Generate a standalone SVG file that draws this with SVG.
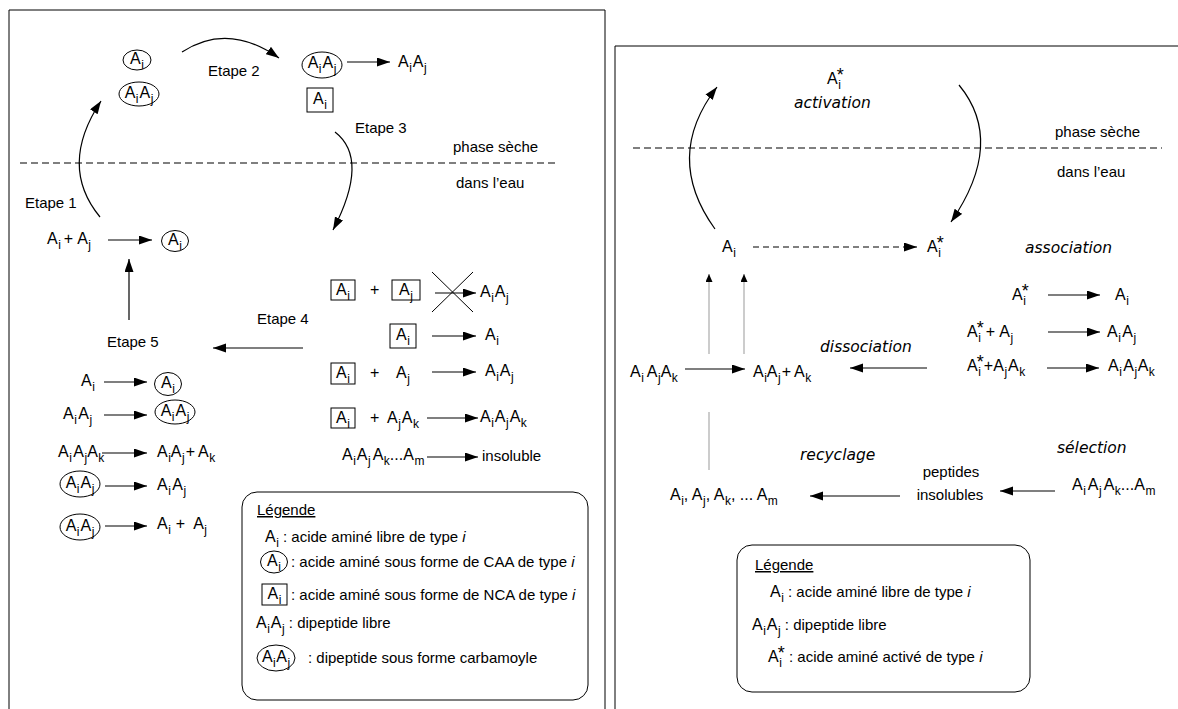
<svg xmlns="http://www.w3.org/2000/svg" width="1178" height="709" viewBox="0 0 1178 709">
<style>
.t{font-family:"Liberation Sans",Arial,sans-serif;font-size:15px;fill:#000}
.m{font-family:"Liberation Sans",Arial,sans-serif;font-size:16px;fill:#000}
.w{font-size:15px}
.s{font-size:12px}
.st{font-size:18px}
.it{font-family:"DejaVu Sans",sans-serif;font-style:italic;font-size:15.5px;fill:#000}
.ln{fill:none;stroke:#000;stroke-width:1.2}
.bx{fill:none;stroke:#000;stroke-width:1}
.dash{fill:none;stroke:#000;stroke-width:1.1;stroke-dasharray:7 4}
.gr{fill:none;stroke:#999;stroke-width:1}
</style>
<defs>
<marker id="ah" markerUnits="userSpaceOnUse" markerWidth="14" markerHeight="10" refX="13" refY="4.5" orient="auto">
<path d="M0,0 L13,4.5 L0,9 z" fill="#000"/>
</marker>
<marker id="ahs" markerUnits="userSpaceOnUse" markerWidth="9" markerHeight="8" refX="8" refY="3.5" orient="auto">
<path d="M0,0 L8,3.5 L0,7 z" fill="#000"/>
</marker>
</defs>
<rect width="1178" height="709" fill="#fff"/>

<!-- frames -->
<path class="bx" d="M9,709 V10 H605 V709"/>
<path class="bx" d="M615,709 V46 H1178"/>

<!-- left panel: phase boundary -->
<g id="left-phase">
<line class="dash" x1="20" y1="163" x2="555" y2="163"/>
<text class="t" x="453" y="152">phase sèche</text>
<text class="t" x="456" y="188">dans l’eau</text>
</g>

<g id="connectors-left">
<path class="ln" d="M100,217 Q58,166 101,101" marker-end="url(#ah)"/>
<path class="ln" d="M182,52 Q228,22 279,58" marker-end="url(#ah)"/>
<path class="ln" d="M335,132 Q370,159 333,230" marker-end="url(#ah)"/>
<line class="ln" x1="129" y1="320" x2="129" y2="259" marker-end="url(#ah)"/>
<line class="ln" x1="303" y1="348" x2="213" y2="348" marker-end="url(#ah)"/>
<line class="ln" x1="108" y1="240" x2="152" y2="240" marker-end="url(#ah)"/>
<line class="ln" x1="347" y1="62" x2="390" y2="62" marker-end="url(#ah)"/>
<!-- etape 4 -->
<line class="ln" x1="435" y1="293" x2="476" y2="293" marker-end="url(#ah)"/>
<line class="ln" x1="432" y1="336" x2="476" y2="336" marker-end="url(#ah)"/>
<line class="ln" x1="432" y1="372" x2="476" y2="372" marker-end="url(#ah)"/>
<line class="ln" x1="427" y1="418" x2="478" y2="418" marker-end="url(#ah)"/>
<line class="ln" x1="427" y1="457" x2="478" y2="457" marker-end="url(#ah)"/>
<!-- etape 5 -->
<line class="ln" x1="104" y1="382" x2="147" y2="382" marker-end="url(#ah)"/>
<line class="ln" x1="104" y1="415" x2="147" y2="415" marker-end="url(#ah)"/>
<line class="ln" x1="102" y1="453" x2="147" y2="453" marker-end="url(#ah)"/>
<line class="ln" x1="105" y1="486" x2="147" y2="486" marker-end="url(#ah)"/>
<line class="ln" x1="105" y1="526" x2="147" y2="526" marker-end="url(#ah)"/>
</g>

<!-- step labels -->
<g id="labels-left">
<text class="t" x="25" y="208">Etape 1</text>
<text class="t" x="208" y="76">Etape 2</text>
<text class="t" x="355" y="133">Etape 3</text>
<text class="t" x="257" y="324">Etape 4</text>
<text class="t" x="107" y="347">Etape 5</text>
</g>

<!-- dry phase species -->
<g id="caa-ai-top">
<ellipse class="bx" cx="137" cy="60" rx="14" ry="10"/>
<text class="m" x="137" y="64" text-anchor="middle">A<tspan class="s" dx="0.5" dy="4.5">i</tspan></text>
</g>
<g id="caa-aiaj-top">
<ellipse class="bx" cx="139" cy="94" rx="20" ry="12"/>
<text class="m" x="139" y="98" text-anchor="middle">A<tspan class="s" dx="0.5" dy="4.5">i</tspan><tspan dx="1" dy="-4.5">A</tspan><tspan class="s" dx="0.5" dy="4.5">j</tspan></text>
</g>
<g id="caa-aiaj-dry">
<ellipse class="bx" cx="322" cy="65" rx="20" ry="13"/>
<text class="m" x="322" y="68" text-anchor="middle">A<tspan class="s" dx="0.5" dy="4.5">i</tspan><tspan dx="1" dy="-4.5">A</tspan><tspan class="s" dx="0.5" dy="4.5">j</tspan></text>
<text class="m" x="398" y="67">A<tspan class="s" dx="0.5" dy="4.5">i</tspan><tspan dx="1" dy="-4.5">A</tspan><tspan class="s" dx="0.5" dy="4.5">j</tspan></text>
</g>
<g id="nca-ai-dry">
<rect class="bx" x="307" y="88" width="26" height="24"/>
<text class="m" x="320" y="104" text-anchor="middle">A<tspan class="s" dx="0.5" dy="4.5">i</tspan></text>
</g>

<!-- etape 1 -->
<g id="etape1">
<text class="m" x="47" y="244">A<tspan class="s" dx="0.5" dy="4.5">i</tspan><tspan dx="3" dy="-4.5">+</tspan><tspan dx="4">A</tspan><tspan class="s" dx="0.5" dy="4.5">j</tspan></text>
<ellipse class="bx" cx="175" cy="241" rx="13.5" ry="10.5"/>
<text class="m" x="175" y="245" text-anchor="middle">A<tspan class="s" dx="0.5" dy="4.5">i</tspan></text>
</g>

<!-- etape 4 reactions -->
<g id="etape4">
<rect class="bx" x="331" y="280" width="24" height="20"/>
<text class="m" x="343" y="295" text-anchor="middle">A<tspan class="s" dx="0.5" dy="4.5">i</tspan></text>
<text class="m" x="370" y="295">+</text>
<rect class="bx" x="392" y="280" width="28" height="20"/>
<text class="m" x="406" y="295" text-anchor="middle">A<tspan class="s" dx="0.5" dy="4.5">j</tspan></text>
<line class="bx" x1="432" y1="272" x2="473" y2="312"/>
<line class="bx" x1="432" y1="312" x2="473" y2="272"/>
<text class="m" x="480" y="297">A<tspan class="s" dx="0.5" dy="4.5">i</tspan><tspan dx="1" dy="-4.5">A</tspan><tspan class="s" dx="0.5" dy="4.5">j</tspan></text>

<rect class="bx" x="390" y="324" width="26" height="24"/>
<text class="m" x="403" y="340" text-anchor="middle">A<tspan class="s" dx="0.5" dy="4.5">i</tspan></text>
<text class="m" x="485" y="340">A<tspan class="s" dx="0.5" dy="4.5">i</tspan></text>

<rect class="bx" x="331" y="363" width="24" height="21"/>
<text class="m" x="343" y="378" text-anchor="middle">A<tspan class="s" dx="0.5" dy="4.5">i</tspan></text>
<text class="m" x="370" y="378">+</text>
<text class="m" x="396" y="378">A<tspan class="s" dx="0.5" dy="4.5">j</tspan></text>
<text class="m" x="485" y="376">A<tspan class="s" dx="0.5" dy="4.5">i</tspan><tspan dx="1" dy="-4.5">A</tspan><tspan class="s" dx="0.5" dy="4.5">j</tspan></text>

<rect class="bx" x="331" y="408" width="24" height="20"/>
<text class="m" x="343" y="423" text-anchor="middle">A<tspan class="s" dx="0.5" dy="4.5">i</tspan></text>
<text class="m" x="370" y="423">+</text>
<text class="m" x="387" y="423">A<tspan class="s" dx="0.5" dy="4.5">j</tspan><tspan dx="1" dy="-4.5">A</tspan><tspan class="s" dx="0.5" dy="4.5">k</tspan></text>
<text class="m" x="480" y="422">A<tspan class="s" dx="0.5" dy="4.5">i</tspan><tspan dx="1" dy="-4.5">A</tspan><tspan class="s" dx="0.5" dy="4.5">j</tspan><tspan dx="1" dy="-4.5">A</tspan><tspan class="s" dx="0.5" dy="4.5">k</tspan></text>

<text class="m" x="342" y="460">A<tspan class="s" dx="0.5" dy="4.5">i</tspan><tspan dx="1" dy="-4.5">A</tspan><tspan class="s" dx="0.5" dy="4.5">j</tspan><tspan dx="2" dy="-4.5">A</tspan><tspan class="s" dx="0.5" dy="4.5">k</tspan><tspan dy="-4.5">...A</tspan><tspan class="s" dx="0.5" dy="4.5">m</tspan></text>
<text class="t" x="482" y="461">insoluble</text>
</g>

<!-- etape 5 reactions -->
<g id="etape5">
<text class="m" x="81" y="386">A<tspan class="s" dx="0.5" dy="4.5">i</tspan></text>
<ellipse class="bx" cx="168" cy="384" rx="13.5" ry="11.5"/>
<text class="m" x="168" y="388" text-anchor="middle">A<tspan class="s" dx="0.5" dy="4.5">i</tspan></text>

<text class="m" x="63" y="419">A<tspan class="s" dx="0.5" dy="4.5">i</tspan><tspan dx="1.5" dy="-4.5">A</tspan><tspan class="s" dx="0.5" dy="4.5">j</tspan></text>
<ellipse class="bx" cx="175" cy="412" rx="20" ry="12"/>
<text class="m" x="175" y="416" text-anchor="middle">A<tspan class="s" dx="0.5" dy="4.5">i</tspan><tspan dx="1" dy="-4.5">A</tspan><tspan class="s" dx="0.5" dy="4.5">j</tspan></text>

<text class="m" x="58" y="457">A<tspan class="s" dx="0.5" dy="4.5">i</tspan><tspan dx="1.5" dy="-4.5">A</tspan><tspan class="s" dx="0.5" dy="4.5">j</tspan><tspan dy="-4.5">A</tspan><tspan class="s" dx="0.5" dy="4.5">k</tspan></text>
<text class="m" x="157" y="457">A<tspan class="s" dx="0.5" dy="4.5">i</tspan><tspan dy="-4.5">A</tspan><tspan class="s" dx="0.5" dy="4.5">j</tspan><tspan dx="1" dy="-4.5">+</tspan><tspan dx="3">A</tspan><tspan class="s" dx="0.5" dy="4.5">k</tspan></text>

<ellipse class="bx" cx="80" cy="484" rx="20" ry="13"/>
<text class="m" x="80" y="488" text-anchor="middle">A<tspan class="s" dx="0.5" dy="4.5">i</tspan><tspan dx="1" dy="-4.5">A</tspan><tspan class="s" dx="0.5" dy="4.5">j</tspan></text>
<text class="m" x="157" y="490">A<tspan class="s" dx="0.5" dy="4.5">i</tspan><tspan dx="1.5" dy="-4.5">A</tspan><tspan class="s" dx="0.5" dy="4.5">j</tspan></text>

<ellipse class="bx" cx="80" cy="527" rx="20" ry="13"/>
<text class="m" x="80" y="531" text-anchor="middle">A<tspan class="s" dx="0.5" dy="4.5">i</tspan><tspan dx="1" dy="-4.5">A</tspan><tspan class="s" dx="0.5" dy="4.5">j</tspan></text>
<text class="m" x="157" y="529">A<tspan class="s" dx="0.5" dy="4.5">i</tspan><tspan dx="5" dy="-4.5">+</tspan><tspan dx="8">A</tspan><tspan class="s" dx="0.5" dy="4.5">j</tspan></text>
</g>

<!-- left legend -->
<g id="legend-left">
<rect class="bx" x="242" y="492" width="346" height="208" rx="15"/>
<text class="t" x="257" y="515" text-decoration="underline">Légende</text>
<text class="m" x="265" y="542">A<tspan class="s" dx="0.5" dy="4.5">i</tspan><tspan class="w" dy="-4.5"> : acide aminé libre de type </tspan><tspan class="w" font-style="italic">i</tspan></text>
<ellipse class="bx" cx="274" cy="562" rx="13.5" ry="11"/>
<text class="m" x="274" y="566" text-anchor="middle">A<tspan class="s" dx="0.5" dy="4.5">i</tspan></text>
<text class="t" x="291" y="567">: acide aminé sous forme de CAA de type <tspan font-style="italic">i</tspan></text>
<rect class="bx" x="262" y="584" width="25" height="21"/>
<text class="m" x="274.5" y="599" text-anchor="middle">A<tspan class="s" dx="0.5" dy="4.5">i</tspan></text>
<text class="t" x="291" y="600">: acide aminé sous forme de NCA de type <tspan font-style="italic">i</tspan></text>
<text class="m" x="256" y="628">A<tspan class="s" dx="0.5" dy="4.5">i</tspan><tspan dx="1" dy="-4.5">A</tspan><tspan class="s" dx="0.5" dy="4.5">j</tspan><tspan class="w" dy="-4.5"> : dipeptide libre</tspan></text>
<ellipse class="bx" cx="276" cy="658" rx="19" ry="13"/>
<text class="m" x="276" y="662" text-anchor="middle">A<tspan class="s" dx="0.5" dy="4.5">i</tspan><tspan dx="0.5" dy="-4.5">A</tspan><tspan class="s" dx="0.5" dy="4.5">j</tspan></text>
<text class="t" x="308" y="663">: dipeptide sous forme carbamoyle</text>
</g>

<!-- right panel -->
<g id="right-phase">
<line class="dash" x1="633" y1="148" x2="1162" y2="148"/>
<text class="t" x="1055" y="137">phase sèche</text>
<text class="t" x="1057" y="177">dans l’eau</text>
</g>

<g id="connectors-right">
<path class="ln" d="M715,229 Q663,157 717,87" marker-end="url(#ah)"/>
<path class="ln" d="M959,85 Q1006,142 951,222" marker-end="url(#ah)"/>
<line class="ln" x1="753" y1="247" x2="917" y2="247" stroke-dasharray="6 4" marker-end="url(#ah)"/>
<line class="gr" x1="709" y1="354" x2="709" y2="274" marker-end="url(#ahs)"/>
<line class="gr" x1="744" y1="354" x2="744" y2="274" marker-end="url(#ahs)"/>
<line class="gr" x1="709" y1="412" x2="709" y2="470"/>
<line class="ln" x1="685" y1="369" x2="745" y2="369" marker-end="url(#ah)"/>
<line class="ln" x1="927" y1="368" x2="850" y2="368" marker-end="url(#ah)"/>
<line class="ln" x1="1048" y1="295" x2="1100" y2="295" marker-end="url(#ah)"/>
<line class="ln" x1="1048" y1="332" x2="1100" y2="332" marker-end="url(#ah)"/>
<line class="ln" x1="1047" y1="368" x2="1099" y2="368" marker-end="url(#ah)"/>
<line class="ln" x1="900" y1="496" x2="810" y2="496" marker-end="url(#ah)"/>
<line class="ln" x1="1055" y1="491" x2="1000" y2="491" marker-end="url(#ah)"/>
</g>

<g id="activation">
<text class="m" x="827" y="84">A<tspan class="s" dx="0.5" dy="4.5">i</tspan><tspan class="st" dx="-4" dy="-8">*</tspan></text>
<text class="it" x="794" y="108">activation</text>
</g>

<g id="ai-node">
<text class="m" x="722" y="252">A<tspan class="s" dx="0.5" dy="4.5">i</tspan></text>
</g>
<g id="ai-star-node">
<text class="m" x="927" y="252">A<tspan class="s" dx="0.5" dy="4.5">i</tspan><tspan class="st" dx="-4" dy="-8">*</tspan></text>
</g>

<g id="association">
<text class="it" x="1025" y="253">association</text>
<text class="m" x="1012" y="300">A<tspan class="s" dx="0.5" dy="4.5">i</tspan><tspan class="st" dx="-4" dy="-8">*</tspan></text>
<text class="m" x="1115" y="300">A<tspan class="s" dx="0.5" dy="4.5">i</tspan></text>
<text class="m" x="967" y="337">A<tspan class="s" dx="0.5" dy="4.5">i</tspan><tspan class="st" dx="-4" dy="-8">*</tspan><tspan dx="2" dy="3.5">+</tspan><tspan dx="4">A</tspan><tspan class="s" dx="0.5" dy="4.5">j</tspan></text>
<text class="m" x="1107" y="337">A<tspan class="s" dx="0.5" dy="4.5">i</tspan><tspan dx="1.5" dy="-4.5">A</tspan><tspan class="s" dx="0.5" dy="4.5">j</tspan></text>
<text class="m" x="967" y="371">A<tspan class="s" dx="0.5" dy="4.5">i</tspan><tspan class="st" dx="-4" dy="-8">*</tspan><tspan dy="3.5">+A</tspan><tspan class="s" dx="0.5" dy="4.5">j</tspan><tspan dx="1" dy="-4.5">A</tspan><tspan class="s" dx="0.5" dy="4.5">k</tspan></text>
<text class="m" x="1108" y="371">A<tspan class="s" dx="0.5" dy="4.5">i</tspan><tspan dx="1.5" dy="-4.5">A</tspan><tspan class="s" dx="0.5" dy="4.5">j</tspan><tspan dx="0.5" dy="-4.5">A</tspan><tspan class="s" dx="0.5" dy="4.5">k</tspan></text>
</g>

<g id="dissociation">
<text class="it" x="820" y="352">dissociation</text>
<text class="m" x="630" y="377">A<tspan class="s" dx="0.5" dy="4.5">i</tspan><tspan dx="3" dy="-4.5">A</tspan><tspan class="s" dx="0.5" dy="4.5">j</tspan><tspan dy="-4.5">A</tspan><tspan class="s" dx="0.5" dy="4.5">k</tspan></text>
<text class="m" x="753" y="377">A<tspan class="s" dx="0.5" dy="4.5">i</tspan><tspan dy="-4.5">A</tspan><tspan class="s" dx="0.5" dy="4.5">j</tspan><tspan dx="1" dy="-4.5">+</tspan><tspan dx="3">A</tspan><tspan class="s" dx="0.5" dy="4.5">k</tspan></text>
</g>

<g id="recyclage">
<text class="it" x="800" y="460">recyclage</text>
<text class="m" x="670" y="500">A<tspan class="s" dx="0.5" dy="4.5">i</tspan><tspan dy="-4.5">, A</tspan><tspan class="s" dx="0.5" dy="4.5">j</tspan><tspan dy="-4.5">, A</tspan><tspan class="s" dx="0.5" dy="4.5">k</tspan><tspan dy="-4.5">, ... A</tspan><tspan class="s" dx="0.5" dy="4.5">m</tspan></text>
</g>

<g id="selection">
<text class="it" x="1057" y="453">sélection</text>
<text class="t" x="951" y="477" text-anchor="middle">peptides</text>
<text class="t" x="950" y="500" text-anchor="middle">insolubles</text>
<text class="m" x="1072" y="490">A<tspan class="s" dx="0.5" dy="4.5">i</tspan><tspan dx="2" dy="-4.5">A</tspan><tspan class="s" dx="0.5" dy="4.5">j</tspan><tspan dx="2" dy="-4.5">A</tspan><tspan class="s" dx="0.5" dy="4.5">k</tspan><tspan dy="-4.5">...A</tspan><tspan class="s" dx="0.5" dy="4.5">m</tspan></text>
</g>

<!-- right legend -->
<g id="legend-right">
<rect class="bx" x="737" y="545" width="293" height="147" rx="15"/>
<text class="t" x="755" y="570" text-decoration="underline">Légende</text>
<text class="m" x="770" y="597">A<tspan class="s" dx="0.5" dy="4.5">i</tspan><tspan class="w" dy="-4.5"> : acide aminé libre de type </tspan><tspan class="w" font-style="italic">i</tspan></text>
<text class="m" x="752" y="630">A<tspan class="s" dx="0.5" dy="4.5">i</tspan><tspan dx="1" dy="-4.5">A</tspan><tspan class="s" dx="0.5" dy="4.5">j</tspan><tspan class="w" dy="-4.5"> : dipeptide libre</tspan></text>
<text class="m" x="768" y="662">A<tspan class="s" dx="0.5" dy="4.5">i</tspan><tspan class="st" dx="-4" dy="-8">*</tspan><tspan class="w" dy="3.5"> : acide aminé activé de type </tspan><tspan class="w" font-style="italic">i</tspan></text>
</g>
</svg>
